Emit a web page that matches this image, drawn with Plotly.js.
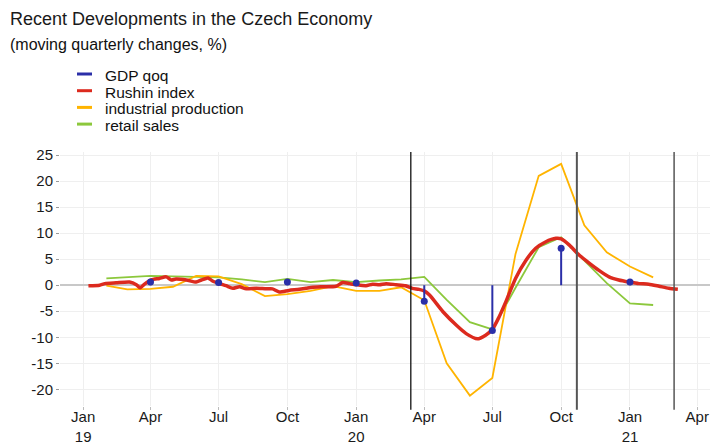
<!DOCTYPE html>
<html>
<head>
<meta charset="utf-8">
<script src="https://cdn.plot.ly/plotly-3.0.1.min.js"></script>
<style>
  html, body { margin: 0; padding: 0; background: #ffffff; }
  #chart { width: 714px; height: 445px; }
</style>
</head>
<body>
<div id="chart"></div>
<script>
// ---------------- data ----------------
const titleText = "Recent Developments in the Czech Economy";
const subtitleText = "(moving quarterly changes, %)";
const seriesNames = ["GDP qoq", "Rushin index", "industrial production", "retail sales"];

const gdpDates = ["2019-04-01", "2019-07-01", "2019-10-01", "2020-01-01", "2020-04-01", "2020-07-01", "2020-10-01", "2021-01-01"];
const gdpQoq = [0.6, 0.5, 0.6, 0.4, -3.1, -8.7, 7.1, 0.6];

const rushinDates = ["2019-01-08","2019-01-23","2019-01-30","2019-02-14","2019-03-04","2019-03-13","2019-03-18","2019-03-24",
  "2019-04-02","2019-04-13","2019-04-22","2019-04-29","2019-05-05","2019-05-19","2019-06-01","2019-06-08","2019-06-17","2019-06-23",
  "2019-07-02","2019-07-11","2019-07-20","2019-07-29","2019-08-07","2019-08-20","2019-09-03","2019-09-11","2019-09-20",
  "2019-10-03","2019-10-17","2019-10-26","2019-11-04","2019-11-17","2019-12-05","2019-12-14","2019-12-23",
  "2020-01-01","2020-01-14","2020-01-23","2020-02-01","2020-02-10","2020-02-23","2020-03-07","2020-03-16","2020-03-25",
  "2020-04-01","2020-04-08","2020-04-26","2020-05-14","2020-05-27","2020-06-11","2020-06-22","2020-07-01","2020-07-10","2020-07-19",
  "2020-08-01","2020-08-15","2020-08-28","2020-09-10","2020-09-24","2020-10-01","2020-10-12","2020-10-25","2020-11-07","2020-11-21",
  "2020-12-04","2020-12-17","2020-12-31","2021-01-13","2021-01-26","2021-02-09","2021-02-22","2021-03-06"];
const rushinIndex = [-0.1,0.0,0.3,0.45,0.6,0.1,-0.5,0.2,
  1.0,1.3,1.6,1.0,1.2,1.0,0.6,1.0,1.4,0.8,
  0.3,-0.1,-0.6,-0.3,-0.7,-0.6,-0.7,-0.7,-1.3,
  -1.0,-0.8,-0.6,-0.4,-0.3,-0.2,0.5,0.3,
  0.1,-0.1,0.2,0.1,0.3,0.1,-0.1,-0.6,-0.8,
  -1.1,-1.9,-5.1,-7.7,-9.3,-10.3,-9.6,-8.5,-6.1,-3.2,
  1.3,4.8,7.1,8.3,9.0,8.9,7.7,5.8,4.3,2.8,
  1.6,1.0,0.6,0.3,0.2,-0.2,-0.6,-0.8];

const monthDates = ["2019-02-01","2019-03-01","2019-04-01","2019-05-01","2019-06-01","2019-07-01","2019-08-01","2019-09-01",
  "2019-10-01","2019-11-01","2019-12-01","2020-01-01","2020-02-01","2020-03-01","2020-04-01","2020-05-01","2020-06-01",
  "2020-07-01","2020-08-01","2020-09-01","2020-10-01","2020-11-01","2020-12-01","2021-01-01","2021-02-01"];
const industrialProduction = [-0.1,-0.8,-0.7,-0.3,1.8,1.7,0.2,-2.1,-1.7,-1.1,-0.2,-1.1,-1.1,-0.4,-2.9,-15.0,-21.2,-17.8,6.0,21.0,23.3,11.5,6.3,3.6,1.5];
const retailSales = [1.3,1.6,1.8,1.7,1.6,1.5,1.1,0.6,1.2,0.6,1.0,0.6,0.9,1.1,1.6,-2.8,-7.1,-8.5,-0.5,7.3,9.2,4.8,0.4,-3.5,-3.8];

const eventDates = ["2020-03-14", "2020-10-22", "2021-03-01"];

const xTickVals = ["2019-01-01","2019-04-01","2019-07-01","2019-10-01","2020-01-01","2020-04-01","2020-07-01","2020-10-01","2021-01-01","2021-04-01"];
const xTickText = ["Jan<br>19","Apr","Jul","Oct","Jan<br>20","Apr","Jul","Oct","Jan<br>21","Apr"];
const yTickVals = [-20,-15,-10,-5,0,5,10,15,20,25];
const yTickText = ["-20","-15","-10","-5","0","5","10","15","20","25"];

// ---------------- styles ----------------
const COL = { gdp: "#2b2fa8", rushin: "#dc2a1e", ip: "#ffb400", retail: "#8cc83c" };
const FONT = "Liberation Sans, Arial, sans-serif";
const W = 714, H = 445, M = { l: 60, r: 4, t: 152, b: 39 };
const px2x = px => (px - M.l) / (W - M.l - M.r);
const px2y = py => (H - M.b - py) / (H - M.t - M.b);

// stems for GDP (from zero to value)
const stemX = [], stemY = [];
gdpDates.forEach((d, i) => { stemX.push(d, d, null); stemY.push(0, gdpQoq[i], null); });

const traces = [
  { type: "scatter", mode: "lines", x: monthDates, y: retailSales, name: seriesNames[3],
    line: { color: COL.retail, width: 1.8 }, showlegend: false },
  { type: "scatter", mode: "lines", x: monthDates, y: industrialProduction, name: seriesNames[2],
    line: { color: COL.ip, width: 1.8 }, showlegend: false },
  { type: "scatter", mode: "lines", x: rushinDates, y: rushinIndex, name: seriesNames[1],
    line: { color: COL.rushin, width: 3.5, shape: "spline", smoothing: 0.6 }, showlegend: false },
  { type: "scatter", mode: "lines", x: stemX, y: stemY, name: seriesNames[0],
    line: { color: COL.gdp, width: 2 }, showlegend: false },
  { type: "scatter", mode: "markers", x: gdpDates, y: gdpQoq, name: seriesNames[0],
    marker: { color: COL.gdp, size: 7 }, showlegend: false }
];

const eventStyles = [{ color: "#111111", width: 1.3 }, { color: "#555555", width: 2 }, { color: "#555555", width: 1.5 }];
const shapes = eventDates.map((d, i) => ({
  type: "line", xref: "x", yref: "paper", x0: d, x1: d, y0: -0.015, y1: 1,
  line: eventStyles[i], layer: "above"
}));

// custom legend
const legendColors = [COL.gdp, COL.rushin, COL.ip, COL.retail];
const legendY = [74, 90.7, 107.4, 124.1];
const annotations = [];
seriesNames.forEach((n, i) => {
  shapes.push({ type: "line", xref: "paper", yref: "paper", x0: px2x(77), x1: px2x(92),
    y0: px2y(legendY[i]), y1: px2y(legendY[i]), line: { color: legendColors[i], width: 3 } });
  annotations.push({ xref: "paper", yref: "paper", x: px2x(103), y: px2y(legendY[i] + 1.5),
    xanchor: "left", yanchor: "middle", showarrow: false, text: n,
    font: { family: FONT, size: 15.5, color: "#111111" } });
});
annotations.push({ xref: "paper", yref: "paper", x: px2x(8), y: px2y(44), xanchor: "left", yanchor: "middle",
  showarrow: false, text: subtitleText, font: { family: FONT, size: 16, color: "#111111" } });

const layout = {
  width: W, height: H, margin: M,
  paper_bgcolor: "#ffffff", plot_bgcolor: "#ffffff",
  title: { text: titleText, x: 10 / W, xanchor: "left", xref: "container", yref: "container",
    y: 1 - 18.7 / H, yanchor: "middle", font: { family: FONT, size: 18, color: "#1a1a1a" } },
  xaxis: { type: "date", range: ["2018-12-01", "2021-04-18"], tickmode: "array", tickvals: xTickVals, ticktext: xTickText,
    showgrid: true, gridcolor: "#efefef", gridwidth: 1, zeroline: false, showline: false,
    ticks: "outside", ticklen: 3, tickcolor: "#bbbbbb", ticklabelstandoff: -6,
    tickfont: { family: FONT, size: 15, color: "#1a1a1a" } },
  yaxis: { range: [-23.2, 25.58], tickmode: "array", tickvals: yTickVals, ticktext: yTickText,
    showgrid: true, gridcolor: "#efefef", gridwidth: 1, zeroline: true, zerolinecolor: "#c8c8c8", zerolinewidth: 2,
    showline: false, ticks: "outside", ticklen: 3, tickcolor: "#999999",
    tickfont: { family: FONT, size: 15, color: "#1a1a1a" } },
  shapes: shapes, annotations: annotations, showlegend: false, hovermode: false
};

Plotly.newPlot("chart", traces, layout, { displayModeBar: false, staticPlot: true });
</script>
</body>
</html>
